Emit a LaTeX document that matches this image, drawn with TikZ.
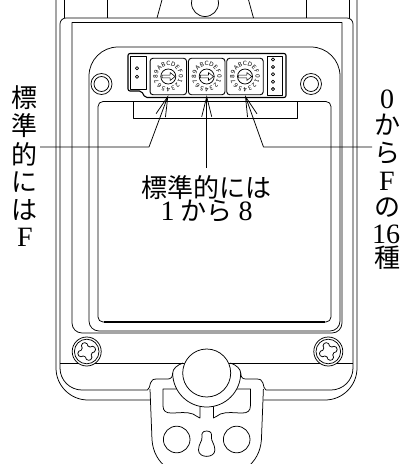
\documentclass[tikz,border=0pt]{standalone}
\usepackage{fontspec}
\newfontfamily\jp{Noto Sans CJK JP}
\newfontfamily\lser{Liberation Serif}
\newfontfamily\hexf{DejaVu Sans}
\usetikzlibrary{arrows.meta}
\begin{document}
\begin{tikzpicture}[x=1pt,y=-1pt,line width=0.75pt,line join=round,
  lead/.style={line width=0.75pt,-{Straight Barb[length=20pt,width=10pt]}},
  jpt/.style={font=\jp\fontsize{26}{30}\selectfont,inner sep=0pt},
  lat/.style={font=\lser\fontsize{28}{30}\selectfont,inner sep=0pt},
  hex/.style={font=\hexf\fontsize{5.8}{6}\selectfont,inner sep=0pt},
  swbox/.style={draw,rounded corners=3pt,minimum width=36.5pt,minimum height=36.5pt,inner sep=0pt,line width=0.9pt},
  heavy/.style={line width=1.1pt}]
\useasboundingbox (0,0) rectangle (403,464);
\begin{scope}
\clip (0,0) rectangle (403,464);
% outer plate
\draw (56,-2) -- (56,368) arc[start angle=180,end angle=90,radius=32] -- (150,400);
\draw (357,-2) -- (357,368) arc[start angle=0,end angle=90,radius=32] -- (263.4,400);
% body
\draw (60,368) -- (60,24) arc[start angle=180,end angle=270,radius=6] -- (347,18) arc[start angle=270,end angle=360,radius=6] -- (353,368);
\draw (60,363) -- (353,363);
\draw (60,368) arc[start angle=180,end angle=90,radius=22] -- (147.5,390);
\draw (353,368) arc[start angle=0,end angle=90,radius=22] -- (265.9,390);
% top pieces
\draw (64,-2) -- (64,18);
\draw (107,-2) -- (107,18);
\draw (162.5,-2) -- (157,18);
\draw (248,-2) -- (253.5,18);
\draw (306.7,-2) -- (306.7,18);
\draw (349.3,-2) -- (349.3,18);
\draw (205,3) circle[radius=13.5];
% inner panel
\draw (72,22.5) -- (342,22.5) -- (342,323) arc[start angle=0,end angle=90,radius=10] -- (82,333) arc[start angle=90,end angle=180,radius=10] -- cycle;
% board
\draw (89,321) -- (89,76) arc[start angle=180,end angle=270,radius=29] -- (311,47) arc[start angle=270,end angle=360,radius=29] -- (340,321) arc[start angle=0,end angle=90,radius=10] -- (99,331) arc[start angle=90,end angle=180,radius=10];
% mounting holes
\draw (101.5,84) circle[radius=10.5] (101.5,84) circle[radius=7.5];
\draw (311,84) circle[radius=10.5] (311,84) circle[radius=7.5];
% screen
\draw[rounded corners=5pt] (98,101.5) rectangle (331,322);
\draw[line width=1.4pt] (104,322) -- (325,322);
% bracket
\draw (133,101.5) -- (133,118.5) -- (297,118.5) -- (297,101.5);
% module
\draw[heavy,rounded corners=2pt] (128,53.5) -- (286,53.5) -- (286,97.5) -- (145,97.5) -- (141.5,91) -- (128,91) -- cycle;
\draw (130.5,56.5) rectangle (146.5,89);
\draw (137,68.3) circle[radius=1.6] (137,76.7) circle[radius=1.6];
\draw (267,56.5) rectangle (282.5,95);
\foreach \j in {0,...,4} \draw (273,59.5+7.4*\j) circle[radius=1.6];
% switches
\foreach \n/\cx in {1/168.3,2/206.7,3/245}{
  \node[swbox] (s\n) at (\cx,76.5) {};
  \begin{scope}[shift={(\cx,76.5)}]
    \foreach \k/\c in {0/0,1/1,2/2,3/3,4/4,5/5,6/6,7/7,8/8,9/9,10/A,11/B,12/C,13/D,14/E,15/F}
      \node[hex,rotate={-22.5*\k-90}] (s\n-\k) at ({22.5*\k}:12.8) {\c};
    \draw (0,0) circle[radius=7.5];
    \draw[line width=0.55pt] (-6.3,-1.4) -- (1.8,-1.4) -- (1.8,-4) -- (6.8,0) -- (1.8,4) -- (1.8,1.4) -- (-6.3,1.4) -- cycle;
  \end{scope}
}
% screws
\foreach \sx in {86.7,328.3}{
  \draw[fill=white] (\sx,351.5) circle[radius=14.5];
  \draw (\sx,351.5) circle[radius=12.3];
  \begin{scope}[shift={(\sx,351.5)},rotate=20]
   \draw[rounded corners=1.8pt] (-9,-3) -- (-3,-3) -- (-3,-9) -- (3,-9) -- (3,-3) -- (9,-3) -- (9,3) -- (3,3) -- (3,9) -- (-3,9) -- (-3,3) -- (-9,3) -- cycle;
  \end{scope}
}
% tab
\draw (150,389) -- (152,440) .. controls (153,452) and (158,461) .. (167,468);
\draw (263.4,389) -- (261.4,440) .. controls (260.4,452) and (255.4,461) .. (246.4,468);
\draw (147.5,390) .. controls (149.5,389) and (149.5,386) .. (150.5,383) .. controls (151.5,380) and (153,379) .. (157,379) -- (168,379) .. controls (171.2,379) and (172.7,376.5) .. (172.7,373) .. controls (172.7,369) and (177,365) .. (183,363);
\draw (265.9,390) .. controls (263.9,389) and (263.9,386) .. (262.9,383) .. controls (261.9,380) and (260.4,379) .. (256.4,379) -- (245.4,379) .. controls (242.2,379) and (240.7,376.5) .. (240.7,373) .. controls (240.7,369) and (236.4,365) .. (230.4,363);
\draw (172.7,373) arc[start angle=180,end angle=0,radius=34];
\draw (176.7,389) -- (163,389) -- (163,406) .. controls (163,411) and (166,413) .. (171,413) .. controls (180,413) and (186,411.5) .. (193,414) .. controls (196,415.5) and (198,417.5) .. (200,418) -- (200,406.3);
\draw (236.7,389) -- (250.4,389) -- (250.4,406) .. controls (250.4,411) and (247.4,413) .. (242.4,413) .. controls (233.4,413) and (227.4,411.5) .. (220.4,414) .. controls (217.4,415.5) and (215.4,417.5) .. (213.4,418) -- (213.4,406.3);
\draw[fill=white] (206.7,373) circle[radius=24];
\draw (176.7,439.5) circle[radius=13.3] (236.7,439.5) circle[radius=13.3];
\draw (206.7,431) .. controls (202,431) and (201.5,434) .. (202,437) .. controls (202.5,441) and (198.5,444) .. (198.5,450) .. controls (198.5,458.5) and (214.9,458.5) .. (214.9,450) .. controls (214.9,444) and (210.9,441) .. (211.4,437) .. controls (211.9,434) and (211.4,431) .. (206.7,431) -- cycle;
\end{scope}
% texts
\foreach \i/\c in {1/標,2/準,3/的,4/に,5/は}
  \node[jpt] (l\i) at (25,{70+28*\i}) {\c};
\node[lat] (l6) at (25,237) {F};
\node[lat] (r1) at (387,99) {0};
\node[jpt] (r2) at (387,125) {か};
\node[jpt] (r3) at (387,153) {ら};
\node[lat] (r4) at (387,181) {F};
\node[jpt] (r5) at (387,208) {の};
\node[lat] (r6) at (386,234) {16};
\node[jpt] (r7) at (387,258) {種};
\node[jpt,anchor=base] (m1) at (206.7,197) {標準的には};
\node[jpt,anchor=base] (m2) at (206.7,220) {{\lser\fontsize{28}{30}\selectfont\makebox[26pt]{1}}から{\lser\fontsize{28}{30}\selectfont\makebox[26pt]{8}}};
% leaders
\coordinate (la) at (40,147);
\coordinate (lb) at (149,147);
\coordinate (ra) at (372,147);
\coordinate (rb) at (263.5,147);
\draw[lead] (la) -- (lb) -- (s1.south);
\draw[lead] (ra) -- (rb) -- (s3.south);
\draw[lead,shorten <=7pt] (m1.north) -- (s2.south);
\end{tikzpicture}
\end{document}
